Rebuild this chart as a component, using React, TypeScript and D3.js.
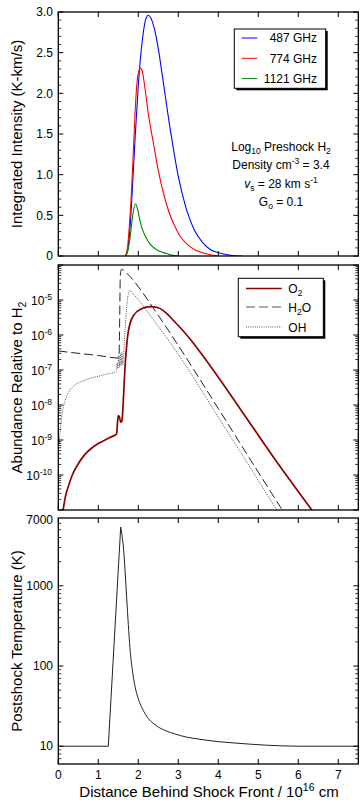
import React from "react";
import * as d3 from "d3";

// ---------- data ----------
const xTicks = [0, 1, 2, 3, 4, 5, 6, 7];
const intensityTicks = [0, 0.5, 1, 1.5, 2, 2.5, 3];
const intensityLabels = ["0", "0.5", "1.0", "1.5", "2.0", "2.5", "3.0"];
const abundanceTickExp = [-5, -6, -7, -8, -9, -10];
const temperatureTicks = [10, 100, 1000, 7000];

const legendIntensity = ["487 GHz", "774 GHz", "1121 GHz"];

const i487: [number, number][] = [
  [1.68, 0], [1.74, 0.08], [1.8, 0.4], [1.86, 0.9], [1.92, 1.45], [2.0, 2.1], [2.1, 2.65],
  [2.18, 2.9], [2.25, 2.96], [2.32, 2.92], [2.4, 2.8], [2.5, 2.55], [2.6, 2.22], [2.7, 1.88],
  [2.8, 1.55], [2.9, 1.25], [3.0, 0.98], [3.2, 0.58], [3.4, 0.32], [3.6, 0.17], [3.8, 0.08],
  [4.0, 0.04], [4.3, 0.01], [4.6, 0],
];
const i774: [number, number][] = [
  [1.68, 0], [1.73, 0.1], [1.78, 0.4], [1.82, 0.7], [1.86, 1.1], [1.9, 1.55], [1.94, 1.95],
  [1.99, 2.22], [2.05, 2.31], [2.1, 2.27], [2.17, 2.05], [2.25, 1.75], [2.38, 1.38], [2.5, 1.05],
  [2.63, 0.77], [2.78, 0.52], [2.92, 0.36], [3.05, 0.24], [3.21, 0.15], [3.4, 0.08], [3.6, 0.04],
  [3.8, 0.015], [4.0, 0],
];
const i1121: [number, number][] = [
  [1.68, 0], [1.73, 0.05], [1.8, 0.25], [1.86, 0.5], [1.93, 0.64], [1.98, 0.58], [2.03, 0.46],
  [2.08, 0.36], [2.17, 0.25], [2.29, 0.15], [2.45, 0.08], [2.6, 0.045], [2.71, 0.03], [2.85, 0.01],
  [3.0, 0],
];

const abO2: [number, number][] = [
  [0.12, 1e-11], [0.18, 2.5e-11], [0.25, 4.7e-11], [0.35, 1e-10], [0.5, 2.1e-10], [0.65, 3.7e-10],
  [0.83, 5.8e-10], [1.0, 7.9e-10], [1.17, 1e-9], [1.3, 1.2e-9], [1.46, 1.5e-9], [1.48, 3.2e-9],
  [1.5, 5e-9], [1.53, 4.5e-9], [1.56, 3.2e-9], [1.59, 3.5e-9], [1.62, 1e-8], [1.65, 5e-8],
  [1.68, 2e-7], [1.71, 5e-7], [1.75, 1.26e-6], [1.88, 3.6e-6], [2.08, 5.6e-6], [2.3, 6.5e-6],
  [2.5, 6e-6], [2.7, 4.2e-6], [2.88, 2.6e-6], [3.3, 7.6e-7], [3.71, 1.8e-7], [4.54, 8e-9],
  [5.38, 3.2e-10], [6.4, 8e-12],
];
const abH2O: [number, number][] = [
  [0, 3.5e-7], [0.5, 3e-7], [1.0, 2.6e-7], [1.5, 2.2e-7], [1.52, 2.6e-7], [1.535, 3e-6],
  [1.55, 5e-5], [1.58, 7.5e-5], [1.62, 7.2e-5], [1.7, 6e-5], [1.8, 4.6e-5], [2.0, 2.4e-5],
  [2.37, 6e-6], [3.0, 5e-7], [4.0, 7.9e-9], [5.0, 1.2e-10], [5.6, 1e-11],
];
const abOH: [number, number][] = [
  [0.02, 8e-10], [0.05, 2e-9], [0.1, 6e-9], [0.15, 1.1e-8], [0.25, 2.2e-8], [0.4, 3.6e-8],
  [0.6, 4.8e-8], [0.8, 5.8e-8], [1.0, 6.6e-8], [1.2, 7.6e-8], [1.45, 9e-8], [1.47, 1.6e-7],
  [1.49, 1.1e-7], [1.51, 2.6e-7], [1.53, 1.2e-7], [1.55, 3e-7], [1.57, 1.3e-7], [1.59, 3.2e-7],
  [1.61, 1.4e-7], [1.63, 2.5e-7], [1.67, 1.5e-6], [1.71, 6e-6], [1.75, 1.5e-5], [1.79, 1.9e-5],
  [1.85, 1.6e-5], [2.04, 9e-6], [2.37, 2.8e-6], [3.0, 2.8e-7], [4.0, 4.5e-9], [5.0, 7e-11],
  [5.46, 1e-11],
];

// rise (flat preshock gas, then heating to the peak)
const temperatureRise: [number, number][] = [[0, 10], [1.25, 10], [1.56, 5400]];
// cooling tail after the peak
const temperatureFall: [number, number][] = [
  [1.56, 5400], [1.6, 4000], [1.63, 2950], [1.67, 1500], [1.71, 700],
  [1.75, 330], [1.79, 170], [1.85, 90], [1.92, 55], [2.0, 39], [2.08, 31], [2.2, 24],
  [2.42, 18.5], [2.7, 15.5], [2.92, 14.2], [3.2, 13], [3.54, 12.2], [4.0, 11.4], [4.37, 11],
  [4.8, 10.6], [5.2, 10.3], [5.6, 10.1], [6.0, 10], [7.5, 10],
];

// ---------- layout ----------
const W = 363;
const H = 808;
const L = 58.3;
const R = 358.3;
const P1: [number, number] = [12, 256];
const P2: [number, number] = [265, 510];
const P3: [number, number] = [518, 764];
const FONT = "'Liberation Sans', Arial, Helvetica, sans-serif";

const x = d3.scaleLinear().domain([0, 7.5]).range([L, R]);
const y1 = d3.scaleLinear().domain([0, 3]).range([P1[1], P1[0]]);
const y2 = d3.scaleLog().domain([1e-11, 1e-4]).range([P2[1], P2[0]]);
const y3 = d3.scaleLog().domain([6, 7000]).range([P3[1], P3[0]]);

function logMinors(lo: number, hi: number): number[] {
  const out: number[] = [];
  for (let e = Math.floor(Math.log10(lo)); e <= Math.ceil(Math.log10(hi)); e++) {
    for (let m = 2; m <= 9; m++) {
      const v = m * Math.pow(10, e);
      if (v > lo * 1.0001 && v < hi * 0.9999) out.push(v);
    }
  }
  return out;
}

function Frame({ top, bottom, yMajor, yMinor }: { top: number; bottom: number; yMajor: number[]; yMinor: number[] }) {
  const maj = 5;
  const min = 3;
  return (
    <g stroke="#000" fill="none">
      {xTicks.map((t) => (
        <g key={"x" + t}>
          <line x1={x(t)} x2={x(t)} y1={bottom} y2={bottom - maj} strokeWidth={1} />
          <line x1={x(t)} x2={x(t)} y1={top} y2={top + maj} strokeWidth={1} />
        </g>
      ))}
      {yMajor.map((py, i) => (
        <g key={"ym" + i}>
          <line x1={L} x2={L + maj} y1={py} y2={py} strokeWidth={1} />
          <line x1={R} x2={R - maj} y1={py} y2={py} strokeWidth={1} />
        </g>
      ))}
      {yMinor.map((py, i) => (
        <g key={"yn" + i}>
          <line x1={L} x2={L + min} y1={py} y2={py} strokeWidth={0.8} />
          <line x1={R} x2={R - min} y1={py} y2={py} strokeWidth={0.8} />
        </g>
      ))}
      <rect x={L} y={top} width={R - L} height={bottom - top} strokeWidth={1.3} />
    </g>
  );
}

export default function App() {
  const lin = (ys: (v: number) => number) =>
    d3.line<[number, number]>().x((d) => x(d[0])).y((d) => ys(d[1])).curve(d3.curveMonotoneX);
  const linStraight = (ys: (v: number) => number) =>
    d3.line<[number, number]>().x((d) => x(d[0])).y((d) => ys(d[1]));

  const p1Minor = d3.range(0, 3.001, 0.1).filter((v) => Math.abs(v * 2 - Math.round(v * 2)) > 1e-6).map((v) => y1(v));
  const p2Major = d3.range(-11, -3).map((e) => y2(Math.pow(10, e)));
  const p2Minor = logMinors(1e-11, 1e-4).map((v) => y2(v));
  const p3Major = [10, 100, 1000].map((v) => y3(v));
  const p3Minor = logMinors(6, 7000).map((v) => y3(v));

  const tickFont = 12;
  const titleFont = 15;

  return (
    <svg width={W} height={H} style={{ position: "absolute", left: 0, top: 0, background: "#fff" }} fontFamily={FONT}>
      <defs>
        <clipPath id="c1"><rect x={L} y={P1[0]} width={R - L} height={P1[1] - P1[0]} /></clipPath>
        <clipPath id="c2"><rect x={L} y={P2[0]} width={R - L} height={P2[1] - P2[0]} /></clipPath>
        <clipPath id="c3"><rect x={L} y={P3[0]} width={R - L} height={P3[1] - P3[0]} /></clipPath>
      </defs>
      <rect x={0} y={0} width={W} height={H} fill="#fff" />

      {/* ---------- Panel 1 ---------- */}
      <g clipPath="url(#c1)" fill="none" strokeWidth={1.1}>
        <path d={lin(y1)(i487) || ""} stroke="#0000ff" />
        <path d={lin(y1)(i774) || ""} stroke="#ff0000" />
        <path d={lin(y1)(i1121) || ""} stroke="#008000" />
      </g>
      <Frame top={P1[0]} bottom={P1[1]} yMajor={intensityTicks.map((v) => y1(v))} yMinor={p1Minor} />
      <g fontSize={tickFont} textAnchor="end" fill="#000">
        {intensityTicks.map((t, i) => (
          <text key={t} x={53} y={y1(t) + 4.2}>{intensityLabels[i]}</text>
        ))}
      </g>
      <text transform={`translate(22,${(P1[0] + P1[1]) / 2}) rotate(-90)`} textAnchor="middle" fontSize={titleFont}>
        Integrated Intensity (K-km/s)
      </text>
      {/* legend 1 */}
      <g>
        <rect x={236.3} y={31} width={91.4} height={59.3} fill="#000" />
        <rect x={234.3} y={29} width={91.4} height={59.3} fill="#fff" stroke="#000" strokeWidth={1} />
        {legendIntensity.map((name, i) => {
          const cy = 38 + i * 20.3;
          const col = ["#0000ff", "#ff0000", "#008000"][i];
          return (
            <g key={name}>
              <line x1={241.7} x2={257.3} y1={cy} y2={cy} stroke={col} strokeWidth={1} />
              <text x={317} y={cy + 4.3} fontSize={12} textAnchor="end">{name}</text>
            </g>
          );
        })}
      </g>
      {/* annotation */}
      <g fontSize={12} textAnchor="middle">
        <text x={281} y={151}>
          Log<tspan fontSize={8.5} dy={3}>10</tspan><tspan dy={-3}> Preshock H</tspan><tspan fontSize={8.5} dy={3}>2</tspan>
        </text>
        <text x={281} y={168.5}>
          Density cm<tspan fontSize={8.5} dy={-5}>-3</tspan><tspan dy={5}> = 3.4</tspan>
        </text>
        <text x={281} y={187.5}>
          <tspan fontStyle="italic">v</tspan><tspan fontSize={8.5} dy={3}>s</tspan><tspan dy={-3}> = 28 km s</tspan><tspan fontSize={8.5} dy={-5}>-1</tspan>
        </text>
        <text x={281} y={206}>
          G<tspan fontSize={8.5} dy={3}>o</tspan><tspan dy={-3}> = 0.1</tspan>
        </text>
      </g>

      {/* ---------- Panel 2 ---------- */}
      <g clipPath="url(#c2)" fill="none">
        <path d={lin(y2)(abOH) || ""} stroke="#444" strokeWidth={0.9} strokeDasharray="1,1.2" />
        <path d={lin(y2)(abH2O) || ""} stroke="#222" strokeWidth={1} strokeDasharray="9,4" />
        <path d={lin(y2)(abO2) || ""} stroke="#8b0000" strokeWidth={1.7} />
      </g>
      <Frame top={P2[0]} bottom={P2[1]} yMajor={p2Major} yMinor={p2Minor} />
      <g fontSize={tickFont} textAnchor="end" fill="#000">
        {abundanceTickExp.map((e) => (
          <text key={e} x={52} y={y2(Math.pow(10, e)) + 5}>
            10<tspan fontSize={8.5} dy={-5.5}>{e}</tspan>
          </text>
        ))}
      </g>
      <text transform={`translate(22,${(P2[0] + P2[1]) / 2}) rotate(-90)`} textAnchor="middle" fontSize={titleFont}>
        Abundance Relative to H<tspan fontSize={10.5} dy={3.5}>2</tspan>
      </text>
      {/* legend 2 */}
      <g>
        <rect x={240.3} y={280.3} width={85} height={58.4} fill="#000" />
        <rect x={238.3} y={278.3} width={85} height={58.4} fill="#fff" stroke="#000" strokeWidth={1} />
        <line x1={246} x2={281.7} y1={288.5} y2={288.5} stroke="#8b0000" strokeWidth={1.7} />
        <text x={288.3} y={293} fontSize={12}>O<tspan fontSize={8.5} dy={3}>2</tspan></text>
        <line x1={246} x2={281.7} y1={307} y2={307} stroke="#555" strokeWidth={1} strokeDasharray="9,4" />
        <text x={288.3} y={311.5} fontSize={12}>H<tspan fontSize={8.5} dy={3}>2</tspan><tspan dy={-3}>O</tspan></text>
        <line x1={246} x2={281.7} y1={327} y2={327} stroke="#444" strokeWidth={0.9} strokeDasharray="1,1.2" />
        <text x={288.3} y={331.5} fontSize={12}>OH</text>
      </g>

      {/* ---------- Panel 3 ---------- */}
      <g clipPath="url(#c3)" fill="none" stroke="#222" strokeWidth={1}>
        <path d={linStraight(y3)(temperatureRise) || ""} />
        <path d={lin(y3)(temperatureFall) || ""} />
      </g>
      <Frame top={P3[0]} bottom={P3[1]} yMajor={p3Major} yMinor={p3Minor} />
      <g fontSize={tickFont} textAnchor="end" fill="#000">
        {temperatureTicks.map((t) => (
          <text key={t} x={53} y={y3(t) + (t === 7000 ? 6 : 4.2)}>{t}</text>
        ))}
      </g>
      <text transform={`translate(22,${(P3[0] + P3[1]) / 2}) rotate(-90)`} textAnchor="middle" fontSize={titleFont}>
        Postshock Temperature (K)
      </text>
      <g fontSize={tickFont} textAnchor="middle" fill="#000">
        {xTicks.map((t) => (
          <text key={t} x={x(t)} y={779}>{t}</text>
        ))}
      </g>
      <text x={209} y={797} textAnchor="middle" fontSize={titleFont}>
        Distance Behind Shock Front / 10<tspan fontSize={10.5} dy={-6}>16</tspan><tspan dy={6}> cm</tspan>
      </text>
    </svg>
  );
}
